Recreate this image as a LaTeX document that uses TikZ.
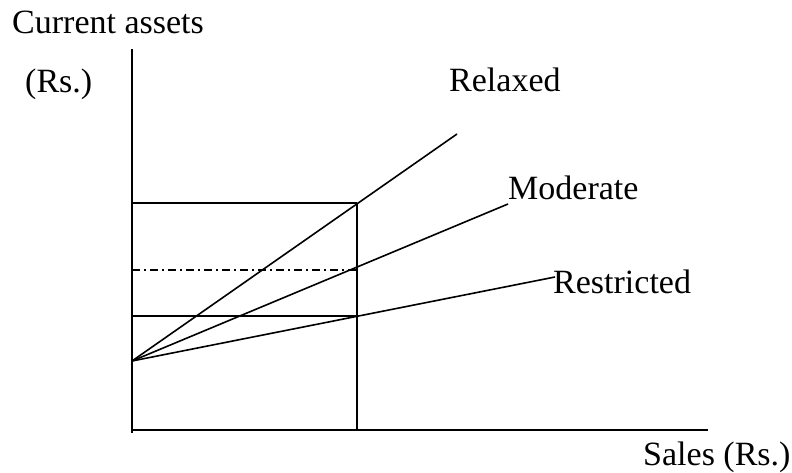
\documentclass[tikz,border=0pt]{standalone}
\usepackage{fontspec}
\setmainfont{Liberation Serif}
\usepackage{tikz}
\usetikzlibrary{positioning}

\begin{document}
\begin{tikzpicture}[
    x=1pt, y=-1pt,
    label/.style={anchor=base west, inner sep=0pt, font=\fontsize{34}{40}\selectfont},
    axis/.style={line width=1.6pt},
    guide/.style={line width=1.6pt},
    policy/.style={line width=1.6pt},
    dashdot/.style={line width=1.6pt, dash pattern=on 8pt off 4pt on 2pt off 4pt}
]
\useasboundingbox (0,0) rectangle (792,472);

% Axes
\coordinate (ytop) at (132,49);
\coordinate (ybot) at (132,433);
\coordinate (xleft) at (132,430);
\coordinate (xright) at (708,430);
\draw[axis] (ytop) -- (ybot);
\draw[axis] (xleft) -- (xright);

% Sales level and asset levels
\coordinate (sbot) at (357,430);
\coordinate (stop) at (357,203);
\coordinate (hi) at (132,203);
\coordinate (mid) at (132,270);
\coordinate (midend) at (357,270);
\coordinate (lo) at (132,316);
\coordinate (loend) at (357,316);
\draw[guide] (sbot) -- (stop);
\draw[guide] (hi) -- (stop);
\draw[dashdot] (mid) -- (midend);
\draw[guide] (lo) -- (loend);

% Policy lines
\coordinate (fixed) at (132,361);
\coordinate (relaxedend) at (457,134);
\coordinate (moderateend) at (508,204);
\coordinate (restrictedend) at (555,277);
\draw[policy] (fixed) -- (relaxedend);
\draw[policy] (fixed) -- (moderateend);
\draw[policy] (fixed) -- (restrictedend);

% Labels
\node[label] (ca) at (12,33) {Current assets};
\node[label] (rs) at (25,92) {(Rs.)};
\node[label] (relaxed) at (449,91) {Relaxed};
\node[label] (moderate) at (508,199) {Moderate};
\node[label] (restricted) at (553,293) {Restricted};
\node[label] (sales) at (643,465) {Sales (Rs.)};

\end{tikzpicture}
\end{document}
